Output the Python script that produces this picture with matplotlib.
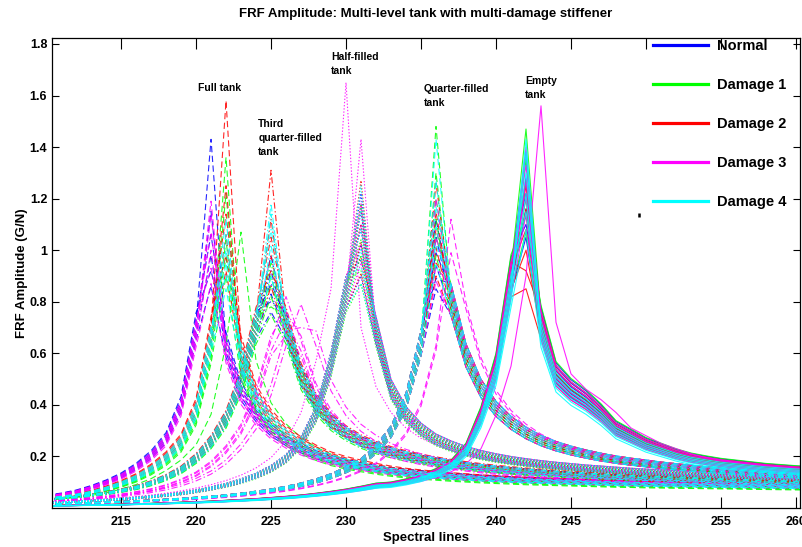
import numpy as np
import matplotlib
matplotlib.use("Agg")
import matplotlib.pyplot as plt
from matplotlib.lines import Line2D

plt.rcParams['font.family'] = ['Liberation Sans', 'DejaVu Sans']
plt.rcParams['font.weight'] = 'bold'
plt.rcParams['lines.scale_dashes'] = False

# spectral lines where the FRF is sampled
lines = np.arange(210, 262)

# reference FRF amplitude of each tank level
full_ref = [0.038, 0.045, 0.053, 0.064, 0.08, 0.1, 0.125, 0.16, 0.205, 0.27,
            0.4, 0.7, 1.0, 0.63, 0.45, 0.36, 0.3, 0.26, 0.23, 0.205,
            0.188, 0.175, 0.163, 0.153, 0.145, 0.139, 0.134, 0.129, 0.125, 0.121,
            0.118, 0.115, 0.112, 0.11, 0.108, 0.106, 0.104, 0.102, 0.1, 0.099,
            0.097, 0.096, 0.095, 0.094, 0.093, 0.092, 0.091, 0.09, 0.089, 0.088,
            0.087, 0.086]
third_ref = [0.032, 0.037, 0.043, 0.05, 0.058, 0.068, 0.08, 0.097, 0.12, 0.15,
             0.195, 0.26, 0.35, 0.5, 0.72, 1.0, 0.72, 0.52, 0.41, 0.34,
             0.295, 0.262, 0.238, 0.22, 0.205, 0.193, 0.183, 0.174, 0.166, 0.159,
             0.153, 0.148, 0.143, 0.139, 0.135, 0.131, 0.128, 0.125, 0.122, 0.119,
             0.117, 0.115, 0.113, 0.111, 0.109, 0.107, 0.105, 0.103, 0.101, 0.1,
             0.098, 0.097]
half_ref = [0.02, 0.022, 0.025, 0.028, 0.031, 0.035, 0.039, 0.044, 0.05, 0.057,
            0.066, 0.077, 0.09, 0.106, 0.127, 0.155, 0.195, 0.26, 0.37, 0.57,
            0.85, 1.0, 0.7, 0.47, 0.37, 0.31, 0.27, 0.245, 0.225, 0.21,
            0.198, 0.188, 0.18, 0.173, 0.167, 0.162, 0.157, 0.153, 0.149, 0.145,
            0.142, 0.139, 0.136, 0.133, 0.13, 0.128, 0.126, 0.124, 0.122, 0.12,
            0.118, 0.116]
quarter_ref = [0.015, 0.016, 0.018, 0.02, 0.022, 0.024, 0.026, 0.029, 0.032, 0.035,
               0.039, 0.043, 0.048, 0.054, 0.061, 0.069, 0.079, 0.091, 0.106, 0.125,
               0.15, 0.18, 0.23, 0.3, 0.42, 0.65, 1.0, 0.82, 0.6, 0.47,
               0.39, 0.335, 0.295, 0.265, 0.243, 0.226, 0.212, 0.2, 0.19, 0.182,
               0.175, 0.168, 0.162, 0.156, 0.151, 0.146, 0.142, 0.138, 0.134, 0.13,
               0.127, 0.125]
empty_ref = [0.008, 0.009, 0.01, 0.011, 0.012, 0.013, 0.015, 0.016, 0.018, 0.02,
             0.022, 0.024, 0.027, 0.03, 0.033, 0.037, 0.041, 0.046, 0.052, 0.059,
             0.067, 0.077, 0.088, 0.092, 0.103, 0.118, 0.14, 0.17, 0.23, 0.36,
             0.55, 0.9, 1.0, 0.72, 0.52, 0.46, 0.42, 0.37, 0.31, 0.28,
             0.25, 0.23, 0.21, 0.195, 0.185, 0.176, 0.17, 0.164, 0.158, 0.154,
             0.15, 0.147]
ref_peak_line = [222, 225, 231, 236, 242]

# peak line and peak amplitude of every measurement (rows: Normal, Damage 1..4)
full_line = [[221] * 6, [222, 222, 223, 222, 222, 222], [222] * 6, [221] * 6, [222] * 6]
full_peak = [[1.43, 1.15, 1.06, 0.98, 0.92, 0.86],
             [1.36, 1.22, 1.07, 1.04, 0.97, 0.9],
             [1.58, 1.25, 1.14, 1.06, 0.98, 0.92],
             [1.19, 1.14, 1.07, 1.0, 0.93, 0.87],
             [1.12, 1.06, 1.0, 0.95, 0.9, 0.85]]
full_tail = [1.02, 0.88, 1.0, 0.98, 0.95]

third_line = [[225] * 6, [225] * 6, [225] * 6, [226, 227, 226, 226, 227, 226], [225] * 6]
third_peak = [[0.98, 0.92, 0.87, 0.83, 0.8, 0.76],
              [0.95, 0.9, 0.86, 0.82, 0.78, 0.75],
              [1.31, 1.12, 1.05, 0.98, 0.92, 0.86],
              [0.82, 0.79, 0.76, 0.73, 0.7, 0.67],
              [1.18, 1.14, 1.08, 1.02, 0.96, 0.9]]
third_tail = [1.0, 0.97, 1.02, 0.9, 1.0]

half_line = [[231] * 6, [231] * 6, [231] * 6, [230, 231, 231, 231, 231, 231], [231] * 6]
half_peak = [[1.22, 1.15, 1.08, 1.02, 0.96, 0.9],
             [1.18, 1.1, 1.04, 0.98, 0.92, 0.87],
             [1.27, 1.17, 1.1, 1.03, 0.97, 0.91],
             [1.65, 1.43, 1.18, 1.1, 1.02, 0.95],
             [1.25, 1.16, 1.08, 1.0, 0.93, 0.87]]
half_tail = [1.0, 0.98, 1.0, 1.0, 1.0]

quarter_line = [[236] * 6, [236] * 6, [236] * 6, [236, 237, 236, 237, 236, 236], [236] * 6]
quarter_peak = [[1.12, 1.05, 0.99, 0.94, 0.89, 0.85],
                [1.48, 1.3, 1.2, 1.12, 1.05, 0.98],
                [1.26, 1.15, 1.08, 1.01, 0.95, 0.9],
                [1.2, 1.12, 1.05, 0.99, 0.93, 0.88],
                [1.43, 1.27, 1.17, 1.09, 1.02, 0.95]]
quarter_tail = [1.0, 1.0, 1.0, 1.0, 1.0]

empty_line = [[242] * 6, [242] * 6, [242] * 6, [243, 242, 242, 242, 242, 242], [242] * 6]
empty_peak = [[1.38, 1.28, 1.22, 1.16, 1.1, 1.05],
              [1.47, 1.35, 1.27, 1.2, 1.13, 1.07],
              [1.25, 1.16, 1.08, 1.0, 0.92, 0.85],
              [1.56, 1.4, 1.33, 1.27, 1.2, 1.14],
              [1.43, 1.38, 1.3, 1.22, 1.15, 1.08]]
empty_tail = [1.02, 1.03, 1.0, 1.0, 0.95]

# spread of the tails inside one group of measurements
spread = [1.0, 0.97, 1.03, 0.94, 1.06, 0.91]

states = ['Normal', 'Damage 1', 'Damage 2', 'Damage 3', 'Damage 4']
colors = [(0, 0, 1), (0, 1, 0), (1, 0, 0), (1, 0, 1), (0, 1, 1)]

levels = [
    (full_ref, full_line, full_peak, full_tail, (0, (4.5, 2.5))),
    (third_ref, third_line, third_peak, third_tail, (0, (4.5, 1.8, 1.0, 1.8))),
    (half_ref, half_line, half_peak, half_tail, (0, (1.0, 1.3))),
    (quarter_ref, quarter_line, quarter_peak, quarter_tail, (0, (4.5, 2.5))),
    (empty_ref, empty_line, empty_peak, empty_tail, '-'),
]

fig = plt.figure(figsize=(8.03, 5.47), dpi=100)
ax = fig.add_axes([0.0648, 0.0715, 0.9315, 0.8585])

for d in range(5):
    for k, (ref, pline, ppeak, ptail, ls) in enumerate(levels):
        ref = np.array(ref)
        for j in range(len(ppeak[d])):
            shift = pline[d][j] - ref_peak_line[k]
            y = np.interp(lines - shift, lines, ref) * ptail[d] * spread[j]
            y[lines == pline[d][j]] = ppeak[d][j]
            ax.plot(lines, y, color=colors[d], linestyle=ls, linewidth=0.8, alpha=0.85)

# tank level labels
ax.text(220.1, 1.647, 'Full tank', fontsize=7.5, va='top')
ax.text(224.15, 1.507, 'Third\nquarter-filled\ntank', fontsize=7.5, va='top', linespacing=1.45)
ax.text(229.0, 1.768, 'Half-filled\ntank', fontsize=7.5, va='top', linespacing=1.45)
ax.text(235.2, 1.644, 'Quarter-filled\ntank', fontsize=7.5, va='top', linespacing=1.45)
ax.text(241.95, 1.675, 'Empty\ntank', fontsize=7.5, va='top', linespacing=1.45)
ax.plot([249.55], [1.137], marker='|', color='k', markersize=3.5, markeredgewidth=1.8)

handles = [Line2D([], [], color=c, linewidth=2.3) for c in colors]
ax.legend(handles, states, loc='upper left', bbox_to_anchor=(0.813, 0.929),
          bbox_transform=fig.transFigure, frameon=False, fontsize=10.5,
          handlelength=3.8, handletextpad=0.6, labelspacing=1.72,
          borderpad=0, borderaxespad=0)

ax.set_xlim(210.4, 260.27)
ax.set_ylim(0, 1.822)
ax.set_xticks(np.arange(215, 261, 5))
ax.set_yticks(np.arange(0.2, 1.81, 0.2))
ax.set_yticklabels(['0.2', '0.4', '0.6', '0.8', '1', '1.2', '1.4', '1.6', '1.8'])
ax.tick_params(axis='x', direction='in', length=8, width=0.8, top=True, labelsize=9, pad=6)
ax.tick_params(axis='y', direction='in', length=5, width=0.8, right=True, labelsize=9)
for s in ax.spines.values():
    s.set_linewidth(0.9)
ax.set_xlabel('Spectral lines', fontsize=9.5, fontweight='bold', labelpad=3)
ax.set_ylabel('FRF Amplitude (G/N)', fontsize=9.5, fontweight='bold', labelpad=1)
ax.set_title('FRF Amplitude: Multi-level tank with multi-damage stiffener',
             fontsize=9.5, fontweight='bold', pad=15)

fig.savefig('out.png', dpi=100)
